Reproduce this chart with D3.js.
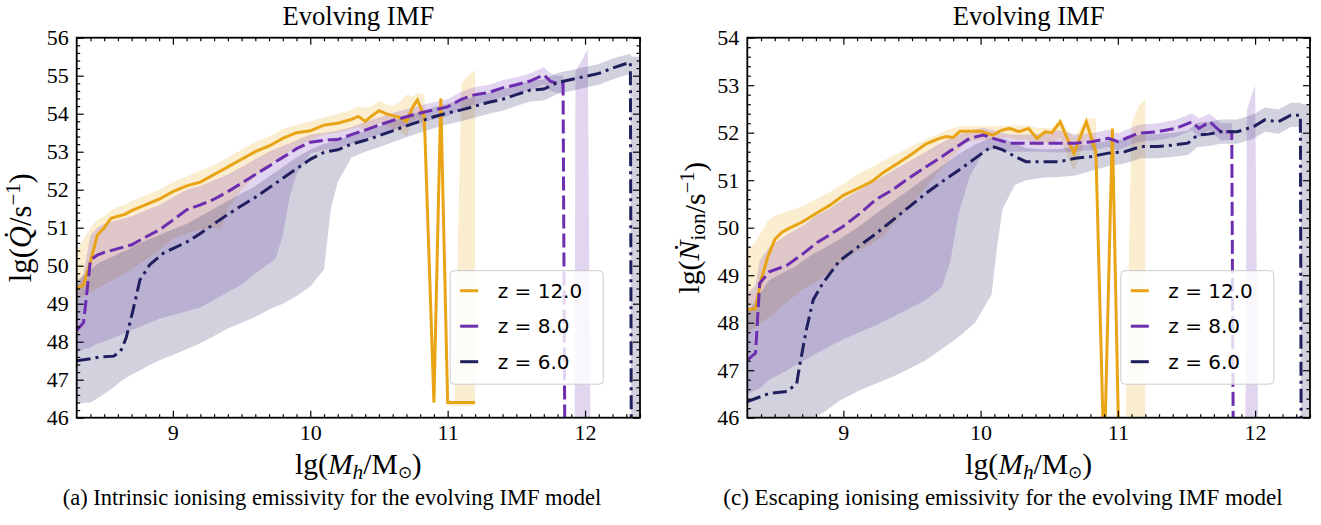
<!DOCTYPE html>
<html>
<head>
<meta charset="utf-8">
<script src="https://cdn.jsdelivr.net/npm/d3@7"></script>
<style>
  body { margin: 0; background: #fff; }
</style>
</head>
<body>
<div id="chart"></div>
<script>
// Rows are [lg Mh, lower band, median, upper band]

// Intrinsic emissivity lg(Qdot), left panel
const qZ12 = [
  [8.30, 49.1, 49.4, 50.4], [8.35, 49.2, 49.5, 50.7], [8.40, 49.3, 50.1, 51.0], [8.45, 49.4, 50.8, 51.2],
  [8.50, 49.5, 51.0, 51.3], [8.55, 49.6, 51.25, 51.45], [8.60, 49.7, 51.3, 51.55], [8.65, 49.8, 51.35, 51.6],
  [8.70, 49.9, 51.45, 51.7], [8.80, 50.15, 51.6, 51.85], [8.90, 50.4, 51.75, 52.0], [9.00, 50.7, 51.95, 52.2],
  [9.10, 50.85, 52.1, 52.35], [9.20, 50.95, 52.2, 52.5], [9.30, 51.0, 52.4, 52.65], [9.35, 50.95, 52.5, 52.75],
  [9.40, 51.5, 52.6, 52.85], [9.50, 52.0, 52.8, 53.05], [9.60, 52.35, 53.0, 53.25], [9.70, 52.65, 53.15, 53.4],
  [9.80, 52.9, 53.35, 53.6], [9.90, 53.15, 53.5, 53.7], [10.00, 53.3, 53.55, 53.8], [10.10, 53.45, 53.7, 53.9],
  [10.20, 53.5, 53.75, 54.0], [10.30, 53.6, 53.85, 54.1], [10.35, 53.65, 53.93, 54.2], [10.40, 53.55, 53.8, 54.15],
  [10.45, 53.6, 53.95, 54.2], [10.50, 53.75, 54.08, 54.35], [10.55, 53.7, 54.0, 54.25], [10.60, 53.6, 53.95, 54.2],
  [10.65, 53.55, 53.9, 54.3], [10.70, 53.4, 53.8, 54.5], [10.75, 53.8, 54.2, 54.45], [10.78, 53.9, 54.36, 54.55],
  [10.83, 53.5, 53.92, 54.5], [10.90, 46.3, 46.4, 46.5], [10.95, 54.2, 54.4, 54.5], [11.00, 46.3, 46.4, 46.5],
  [11.05, 46.3, 46.4, 46.4], [11.10, 46.3, 46.4, 54.8], [11.15, 46.3, 46.4, 55.0], [11.20, 46.3, 46.4, 55.15]
];
const qZ8 = [
  [8.30, 47.7, 48.3, 49.4], [8.35, 47.8, 48.5, 49.8], [8.40, 47.85, 50.15, 50.8], [8.45, 47.95, 50.28, 51.0],
  [8.50, 48.0, 50.35, 51.1], [8.60, 48.15, 50.45, 51.2], [8.70, 48.3, 50.55, 51.3], [8.80, 48.45, 50.75, 51.45],
  [8.90, 48.6, 50.94, 51.6], [9.00, 48.7, 51.2, 51.8], [9.10, 48.8, 51.47, 52.0], [9.20, 48.9, 51.6, 52.1],
  [9.30, 49.1, 51.75, 52.25], [9.40, 49.3, 51.95, 52.4], [9.50, 49.5, 52.17, 52.6], [9.60, 49.8, 52.4, 52.8],
  [9.70, 50.05, 52.62, 53.0], [9.75, 50.2, 52.74, 53.08], [9.80, 50.8, 52.85, 53.15], [9.85, 51.8, 52.96, 53.22],
  [9.90, 52.4, 53.08, 53.3], [10.00, 52.95, 53.25, 53.45], [10.10, 53.05, 53.3, 53.5], [10.20, 53.1, 53.32, 53.55],
  [10.30, 53.2, 53.45, 53.65], [10.40, 53.32, 53.57, 53.78], [10.50, 53.45, 53.7, 53.9], [10.60, 53.57, 53.82, 54.02],
  [10.70, 53.67, 53.92, 54.12], [10.80, 53.77, 54.02, 54.22], [10.90, 53.85, 54.1, 54.3], [11.00, 53.93, 54.18, 54.38],
  [11.10, 54.13, 54.38, 54.58], [11.20, 54.25, 54.5, 54.7], [11.30, 54.31, 54.56, 54.76], [11.40, 54.43, 54.68, 54.88],
  [11.50, 54.51, 54.76, 54.96], [11.60, 54.61, 54.86, 55.06], [11.70, 54.77, 55.02, 55.22], [11.75, 54.6, 54.85, 55.05],
  [11.80, 54.55, 54.8, 55.0], [11.84, 54.55, 54.8, 55.0], [11.86, 40, 40, 40], [11.92, 40, 40, 40],
  [11.93, 40, 40, 55.1], [12.02, 40, 40, 55.7], [12.05, 40, 40, 40]
];
const qZ6 = [
  [8.30, 46.38, 47.5, 49.6], [8.40, 46.4, 47.55, 49.9], [8.47, 46.55, 47.6, 50.1], [8.57, 46.8, 47.62, 50.25],
  [8.62, 46.95, 47.75, 50.35], [8.66, 47.05, 48.1, 50.4], [8.71, 47.15, 48.83, 50.5], [8.76, 47.25, 49.62, 50.6],
  [8.83, 47.39, 50.02, 50.7], [8.93, 47.55, 50.33, 50.85], [9.00, 47.65, 50.45, 50.95], [9.10, 47.8, 50.62, 51.1],
  [9.20, 47.96, 50.85, 51.3], [9.30, 48.15, 51.1, 51.5], [9.40, 48.35, 51.35, 51.7], [9.50, 48.5, 51.58, 51.9],
  [9.60, 48.65, 51.8, 52.1], [9.70, 48.85, 52.05, 52.35], [9.80, 49.0, 52.3, 52.6], [9.90, 49.2, 52.55, 52.85],
  [10.00, 49.45, 52.8, 53.05], [10.10, 49.9, 52.98, 53.2], [10.15, 51.5, 53.02, 53.25], [10.20, 52.2, 53.05, 53.3],
  [10.30, 52.85, 53.2, 53.45], [10.40, 53.0, 53.3, 53.55], [10.50, 53.12, 53.42, 53.67], [10.60, 53.25, 53.55, 53.8],
  [10.70, 53.38, 53.68, 53.93], [10.80, 53.5, 53.8, 54.05], [10.90, 53.62, 53.92, 54.17], [11.00, 53.72, 54.02, 54.27],
  [11.10, 53.8, 54.1, 54.35], [11.20, 53.9, 54.2, 54.45], [11.30, 54.0, 54.3, 54.55], [11.40, 54.08, 54.38, 54.63],
  [11.50, 54.2, 54.5, 54.75], [11.60, 54.32, 54.62, 54.87], [11.70, 54.35, 54.65, 54.9], [11.80, 54.52, 54.82, 55.07],
  [11.90, 54.6, 54.9, 55.15], [12.00, 54.68, 54.98, 55.23], [12.10, 54.76, 55.06, 55.31], [12.20, 54.9, 55.2, 55.45],
  [12.30, 55.02, 55.32, 55.55], [12.33, 55.05, 55.35, 55.58], [12.34, 40, 40, 55.5], [12.40, 40, 40, 55.5]
];

// Escaping emissivity lg(Ndot_ion), right panel
const nZ12 = [
  [8.30, 47.8, 48.27, 49.55], [8.36, 47.9, 48.3, 49.7], [8.40, 48.0, 48.9, 49.9], [8.45, 48.1, 49.39, 50.15],
  [8.50, 48.2, 49.75, 50.25], [8.55, 48.35, 49.9, 50.3], [8.60, 48.45, 49.98, 50.35], [8.70, 48.7, 50.12, 50.45],
  [8.80, 48.85, 50.3, 50.6], [8.90, 49.05, 50.47, 50.75], [9.00, 49.3, 50.68, 50.92], [9.10, 49.5, 50.82, 51.12],
  [9.20, 49.65, 50.96, 51.27], [9.30, 49.85, 51.18, 51.42], [9.40, 50.2, 51.36, 51.57], [9.50, 50.5, 51.55, 51.72],
  [9.60, 50.85, 51.76, 51.86], [9.70, 51.2, 51.88, 51.98], [9.75, 51.35, 51.92, 52.05], [9.80, 51.5, 51.9, 52.1],
  [9.85, 51.65, 52.03, 52.13], [9.90, 51.8, 52.03, 52.14], [10.00, 51.85, 52.03, 52.14], [10.09, 51.85, 51.95, 52.14],
  [10.15, 51.9, 52.05, 52.14], [10.21, 51.9, 52.09, 52.15], [10.28, 51.85, 52.02, 52.15], [10.35, 51.85, 52.09, 52.15],
  [10.41, 51.7, 51.88, 52.1], [10.47, 51.8, 52.02, 52.1], [10.52, 51.75, 52.0, 52.1], [10.58, 51.9, 52.23, 52.3],
  [10.62, 51.6, 51.95, 52.1], [10.68, 51.2, 51.57, 51.9], [10.77, 51.9, 52.23, 52.3], [10.84, 51.4, 51.6, 52.3],
  [10.90, 44.9, 45.0, 45.1], [10.96, 51.9, 52.09, 52.15], [11.01, 44.9, 45.0, 45.1], [11.05, 44.9, 45.0, 45.0],
  [11.10, 44.9, 45.0, 52.2], [11.15, 44.9, 45.0, 52.55], [11.20, 44.9, 45.0, 52.72]
];
const nZ8 = [
  [8.30, 46.5, 47.21, 48.6], [8.36, 46.58, 47.36, 48.8], [8.39, 46.62, 48.83, 49.3], [8.46, 46.8, 49.07, 49.6],
  [8.59, 47.0, 49.21, 49.85], [8.71, 47.2, 49.46, 50.05], [8.80, 47.35, 49.67, 50.25], [8.90, 47.5, 49.85, 50.4],
  [9.00, 47.65, 50.03, 50.6], [9.12, 47.8, 50.3, 50.8], [9.24, 47.95, 50.6, 51.0], [9.36, 48.12, 50.8, 51.2],
  [9.48, 48.3, 51.05, 51.4], [9.60, 48.48, 51.28, 51.6], [9.72, 48.75, 51.5, 51.8], [9.78, 49.3, 51.62, 51.88],
  [9.84, 50.3, 51.73, 51.95], [9.92, 51.07, 51.88, 52.05], [10.02, 51.6, 51.95, 52.1], [10.09, 51.65, 51.88, 52.05],
  [10.21, 51.6, 51.78, 51.96], [10.33, 51.6, 51.78, 51.96], [10.45, 51.6, 51.78, 51.98], [10.57, 51.58, 51.78, 52.05],
  [10.69, 51.6, 51.78, 51.96], [10.81, 51.63, 51.81, 51.99], [10.93, 51.7, 51.88, 52.06], [11.00, 51.63, 51.81, 51.99],
  [11.15, 51.81, 51.99, 52.17], [11.29, 51.84, 52.02, 52.2], [11.42, 51.91, 52.09, 52.27], [11.54, 52.05, 52.23, 52.41],
  [11.59, 51.91, 52.09, 52.3], [11.67, 52.05, 52.23, 52.4], [11.75, 51.84, 52.02, 52.2], [11.83, 51.84, 52.02, 52.2],
  [11.85, 40, 40, 40], [11.92, 40, 40, 40], [11.94, 40, 40, 52.48], [12.00, 40, 40, 53.0], [12.04, 40, 40, 40]
];
const nZ6 = [
  [8.30, 45.3, 46.34, 48.2], [8.46, 45.55, 46.51, 48.9], [8.59, 45.75, 46.55, 49.1], [8.66, 45.85, 46.72, 49.2],
  [8.68, 45.9, 47.07, 49.25], [8.73, 45.95, 47.85, 49.35], [8.78, 46.0, 48.48, 49.45], [8.85, 46.1, 48.83, 49.55],
  [8.97, 46.35, 49.3, 49.75], [9.10, 46.55, 49.58, 50.0], [9.24, 46.72, 49.88, 50.3], [9.36, 46.86, 50.16, 50.55],
  [9.48, 47.03, 50.44, 50.8], [9.60, 47.21, 50.72, 51.05], [9.72, 47.45, 50.97, 51.3], [9.84, 47.7, 51.21, 51.55],
  [9.96, 48.0, 51.46, 51.75], [10.08, 48.6, 51.71, 51.9], [10.12, 49.6, 51.68, 51.9], [10.16, 50.4, 51.64, 51.88],
  [10.25, 50.9, 51.5, 51.78], [10.33, 51.0, 51.39, 51.68], [10.45, 51.05, 51.39, 51.65], [10.57, 51.07, 51.39, 51.65],
  [10.69, 51.1, 51.46, 51.72], [10.81, 51.2, 51.5, 51.76], [10.93, 51.3, 51.57, 51.83], [11.05, 51.35, 51.6, 51.86],
  [11.17, 51.46, 51.71, 51.97], [11.29, 51.46, 51.71, 51.97], [11.40, 51.49, 51.74, 52.0], [11.51, 51.53, 51.78, 52.04],
  [11.58, 51.7, 51.95, 52.21], [11.66, 51.72, 51.97, 52.23], [11.75, 51.77, 52.02, 52.28], [11.87, 51.77, 52.02, 52.28],
  [11.99, 51.88, 52.13, 52.39], [12.07, 52.02, 52.27, 52.53], [12.17, 51.98, 52.23, 52.49], [12.26, 52.12, 52.37, 52.63],
  [12.33, 52.12, 52.37, 52.63], [12.34, 40, 40, 52.6], [12.40, 40, 40, 52.6]
];

const zLabels = ["z = 12.0", "z = 8.0", "z = 6.0"];
const colors = ["#e8a415", "#6c2db0", "#1f1f5e"];
const dashes = [null, "14,5", "14,5,3,5"];

const xTicks = [9, 10, 11, 12];
const qTicks = [46, 47, 48, 49, 50, 51, 52, 53, 54, 55, 56];
const nTicks = [46, 47, 48, 49, 50, 51, 52, 53, 54];

const titleText = "Evolving IMF";
const captions = [
  "(a) Intrinsic ionising emissivity for the evolving IMF model",
  "(c) Escaping ionising emissivity for the evolving IMF model"
];

var SERIF = "Liberation Serif";
var SANS = "DejaVu Sans";

var W = 1321, H = 525;
var plotTop = 37.7, plotBottom = 417.7;

var svg = d3.select("#chart").append("svg")
    .attr("width", W)
    .attr("height", H);

// scale a text (and its tspans) so that it spans the width seen in the picture
function fitWidth(sel, target) {
  var len = sel.node().getComputedTextLength();
  if (!len) return;
  var k = target / len;
  sel.attr("font-size", +sel.attr("font-size") * k);
  sel.selectAll("tspan").each(function() {
    var t = d3.select(this);
    if (t.attr("font-size")) t.attr("font-size", +t.attr("font-size") * k);
    if (t.attr("dy")) t.attr("dy", +t.attr("dy") * k);
  });
}

var panels = [
  {left: 76.7, right: 640, yDomain: [46, 56], yTicks: qTicks, series: [qZ12, qZ8, qZ6], ylab: "Q",
   labX: 31, labW: 109, capX: 332, capW: 539},
  {left: 747.3, right: 1310, yDomain: [46, 54], yTicks: nTicks, series: [nZ12, nZ8, nZ6], ylab: "N",
   labX: 699, labW: 132, capX: 1003, capW: 560}
];

panels.forEach(function(p, i) {
  var w = p.right - p.left,
      h = plotBottom - plotTop;

  var x = d3.scaleLinear().domain([8.3, 12.4]).range([0, w]);
  var y = d3.scaleLinear().domain(p.yDomain).range([h, 0]);

  var g = svg.append("g")
      .attr("transform", "translate(" + p.left + "," + plotTop + ")");

  g.append("clipPath").attr("id", "clip" + i)
    .append("rect").attr("width", w).attr("height", h);

  var plot = g.append("g").attr("clip-path", "url(#clip" + i + ")");

  var area = d3.area()
      .x(function(d) { return x(d[0]); })
      .y0(function(d) { return y(d[1]); })
      .y1(function(d) { return y(d[3]); });
  var line = d3.line()
      .x(function(d) { return x(d[0]); })
      .y(function(d) { return y(d[2]); });

  // shaded ranges first, then the median lines
  p.series.forEach(function(s, k) {
    plot.append("path")
        .attr("d", area(s))
        .attr("fill", colors[k])
        .attr("fill-opacity", 0.2);
  });
  p.series.forEach(function(s, k) {
    plot.append("path")
        .attr("d", line(s))
        .attr("fill", "none")
        .attr("stroke", colors[k])
        .attr("stroke-width", 3)
        .attr("stroke-dasharray", dashes[k]);
  });

  // Ticks on all four sides, pointing in
  var xMinor = d3.range(84, 125).map(function(v) { return v / 10; }).filter(function(v) { return xTicks.indexOf(v) < 0; });
  var yMinor = d3.range(p.yDomain[0] * 5, p.yDomain[1] * 5 + 1).map(function(v) { return v / 5; })
      .filter(function(v) { return p.yTicks.indexOf(v) < 0; });

  function style(a) {
    a.select(".domain").remove();
    a.selectAll(".tick line").attr("stroke", "#000").attr("stroke-width", 1.2);
    a.attr("font-family", SERIF).attr("font-size", 22);
    a.selectAll(".tick text").attr("fill", "#000");
  }

  g.append("g").attr("transform", "translate(0," + h + ")")
    .call(d3.axisBottom(x).tickValues(xTicks).tickSize(-7).tickPadding(7).tickFormat(d3.format("d")))
    .call(style);
  g.append("g").attr("transform", "translate(0," + h + ")")
    .call(d3.axisBottom(x).tickValues(xMinor).tickSize(-3.5).tickFormat(""))
    .call(style);
  g.append("g")
    .call(d3.axisTop(x).tickValues(xTicks).tickSize(-7).tickFormat(""))
    .call(style);
  g.append("g")
    .call(d3.axisTop(x).tickValues(xMinor).tickSize(-3.5).tickFormat(""))
    .call(style);
  g.append("g")
    .call(d3.axisLeft(y).tickValues(p.yTicks).tickSize(-7).tickPadding(8).tickFormat(d3.format("d")))
    .call(style);
  g.append("g")
    .call(d3.axisLeft(y).tickValues(yMinor).tickSize(-3.5).tickFormat(""))
    .call(style);
  g.append("g").attr("transform", "translate(" + w + ",0)")
    .call(d3.axisRight(y).tickValues(p.yTicks).tickSize(-7).tickFormat(""))
    .call(style);
  g.append("g").attr("transform", "translate(" + w + ",0)")
    .call(d3.axisRight(y).tickValues(yMinor).tickSize(-3.5).tickFormat(""))
    .call(style);

  g.append("rect")
      .attr("width", w).attr("height", h)
      .attr("fill", "none").attr("stroke", "#000").attr("stroke-width", 1.8);

  // Title
  var tt = g.append("text")
      .attr("x", w / 2).attr("y", 25 - plotTop)
      .attr("text-anchor", "middle")
      .attr("font-family", SERIF)
      .attr("font-size", 26)
      .text(titleText);
  fitWidth(tt, 152);

  // x label: lg(M_h / M_sun)
  var xl = g.append("text")
      .attr("x", w / 2).attr("y", 474 - plotTop)
      .attr("text-anchor", "middle")
      .attr("font-family", SERIF)
      .attr("font-size", 25);
  xl.append("tspan").text("lg(");
  xl.append("tspan").attr("font-style", "italic").text("M");
  xl.append("tspan").attr("font-style", "italic").attr("font-size", 18).attr("dy", 4).text("h");
  xl.append("tspan").attr("dy", -4).text("/M");
  xl.append("tspan").attr("font-size", 14).attr("dy", 3).text("\u2299");
  xl.append("tspan").attr("dy", -3).text(")");
  fitWidth(xl, 127);

  // y label
  var yl = g.append("text")
      .attr("transform", "translate(" + (p.labX - p.left) + "," + (h / 2) + ") rotate(-90)")
      .attr("text-anchor", "middle")
      .attr("font-family", SERIF)
      .attr("font-size", 25);
  yl.append("tspan").text("lg(");
  if (p.ylab === "Q") {
    yl.append("tspan").attr("font-style", "italic").text("Q\u0307");
  } else {
    yl.append("tspan").attr("font-style", "italic").text("\u1E44");
    yl.append("tspan").attr("font-size", 18).attr("dy", 5).text("ion");
    yl.append("tspan").attr("dy", -5).text("");
  }
  yl.append("tspan").text("/s");
  yl.append("tspan").attr("font-size", 17).attr("dy", -9).text("\u22121");
  yl.append("tspan").attr("dy", 9).text(")");
  fitWidth(yl, p.labW);

  // Legend
  var lg = g.append("g").attr("transform", "translate(373.5,233)");
  lg.append("rect")
      .attr("width", 153).attr("height", 113.5).attr("rx", 4)
      .attr("fill", "#fff").attr("fill-opacity", 0.8)
      .attr("stroke", "#cccccc").attr("stroke-width", 1);
  zLabels.forEach(function(lab, k) {
    var cy = 20 + k * 35.5;
    lg.append("line")
        .attr("x1", 10).attr("x2", 28).attr("y1", cy).attr("y2", cy)
        .attr("stroke", colors[k]).attr("stroke-width", 3);
    lg.append("text")
        .attr("x", 47.5).attr("y", cy).attr("dy", "0.36em")
        .attr("font-family", SANS)
        .attr("font-size", 20)
        .text(lab);
  });

  // Caption
  var cap = svg.append("text")
      .attr("x", p.capX).attr("y", 505)
      .attr("text-anchor", "middle")
      .attr("font-family", SERIF)
      .attr("font-size", 20)
      .text(captions[i]);
  fitWidth(cap, p.capW);
});
</script>
</body>
</html>
